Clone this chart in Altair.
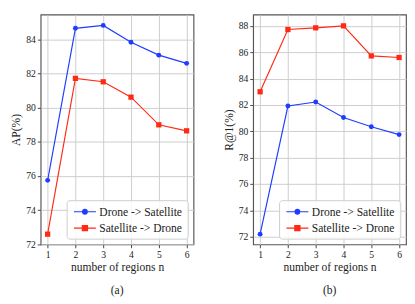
import altair as alt
import pandas as pd

regions = [1, 2, 3, 4, 5, 6]
series_names = ["Drone -> Satellite", "Satellite -> Drone"]

# (a) AP(%)
ap_drone_sat = [75.75, 84.65, 84.82, 83.83, 83.08, 82.60]
ap_sat_drone = [72.60, 81.72, 81.52, 80.62, 79.00, 78.65]

# (b) R@1(%)
r1_drone_sat = [72.20, 81.92, 82.22, 81.05, 80.35, 79.75]
r1_sat_drone = [83.00, 87.72, 87.85, 88.00, 85.72, 85.60]

BLUE = "#1f3dff"
RED = "#ff2a14"
FONT = "Liberation Serif, Times New Roman, DejaVu Serif, serif"

CIRCLE_PATH = "M-1.9,0H1.9M-0.4,0A0.4,0.4,0,1,1,0.4,0A0.4,0.4,0,1,1,-0.4,0Z"
SQUARE_PATH = "M-1.9,0H1.9M-0.45,-0.45H0.45V0.45H-0.45Z"


def make_df(a, b):
    rows = []
    for n, v in zip(regions, a):
        rows.append({"n": n, "value": v, "series": series_names[0]})
    for n, v in zip(regions, b):
        rows.append({"n": n, "value": v, "series": series_names[1]})
    return pd.DataFrame(rows)


def panel(df, ydom, yticks, ytitle, caption):
    x = alt.X(
        "n:Q",
        scale=alt.Scale(domain=[0.75, 6.25], nice=False, zero=False),
        axis=alt.Axis(values=regions, title="number of regions n", format="d",
                      labelFont=FONT, titleFont=FONT),
    )
    y = alt.Y(
        "value:Q",
        scale=alt.Scale(domain=ydom, nice=False, zero=False),
        axis=alt.Axis(values=yticks, title=ytitle, format="d",
                      labelFont=FONT, titleFont=FONT),
    )
    cscale = alt.Scale(domain=series_names, range=[BLUE, RED])
    legend = alt.Legend(
        title=None,
        orient="bottom-right",
        offset=6,
        padding=5,
        fillColor="rgba(255,255,255,0.85)",
        strokeColor="#cccccc",
        cornerRadius=3,
        labelFont=FONT,
        labelFontSize=12,
        labelColor="#222222",
        labelOffset=8,
        symbolOffset=7,
        symbolSize=144,
        symbolStrokeWidth=1.2,
        symbolOpacity=1,
        rowPadding=4,
    )
    base = alt.Chart(df)
    lines = base.mark_line(strokeWidth=1.2).encode(
        x=x, y=y,
        stroke=alt.Stroke("series:N", scale=cscale, legend=legend),
    )
    pts_a = base.transform_filter(alt.datum.series == series_names[0]).mark_point(
        filled=True, size=26, opacity=1, strokeWidth=0, shape="circle"
    ).encode(x=x, y=y, fill=alt.Fill("series:N", scale=cscale, legend=legend))
    pts_b = base.transform_filter(alt.datum.series == series_names[1]).mark_point(
        filled=True, size=30, opacity=1, strokeWidth=0, shape="square"
    ).encode(x=x, y=y, fill=alt.Fill("series:N", scale=cscale, legend=legend))
    leg = base.transform_filter("false").mark_point(filled=True, opacity=1, strokeWidth=1.2).encode(
        x=x, y=y,
        fill=alt.Fill("series:N", scale=cscale, legend=legend),
        stroke=alt.Stroke("series:N", scale=cscale, legend=legend),
        shape=alt.Shape("series:N", scale=alt.Scale(domain=series_names, range=[CIRCLE_PATH, SQUARE_PATH]), legend=legend),
    )
    return alt.layer(lines, pts_a, pts_b, leg).properties(
        width=159,
        height=239,
        title=alt.TitleParams(caption, orient="bottom", font=FONT, fontSize=12,
                              fontWeight="normal", color="#222222", offset=13),
    )


left = panel(make_df(ap_drone_sat, ap_sat_drone), [72, 85.45], [72, 74, 76, 78, 80, 82, 84], "AP(%)", "(a)")
right = panel(make_df(r1_drone_sat, r1_sat_drone), [71.42, 88.85], [72, 74, 76, 78, 80, 82, 84, 86, 88], "R@1(%)", "(b)")

chart = alt.hconcat(left, right, spacing=28).resolve_scale(
    fill="independent", stroke="independent", shape="independent"
).resolve_legend(
    fill="independent", stroke="independent", shape="independent"
).properties(
    padding={"left": 1, "top": 0, "right": 0, "bottom": 0}
).configure_view(
    stroke="#555555", strokeWidth=1.2
).configure_axis(
    labelFont=FONT, labelFontSize=10, labelColor="#222222",
    titleFont=FONT, titleFontSize=12, titleFontWeight="normal", titleColor="#222222",
    grid=True, gridColor="#cccccc", gridWidth=1,
    domain=False, tickColor="#444444", tickSize=3.5, labelPadding=2,
).configure_axisY(titlePadding=3).configure_axisX(titlePadding=3)

chart.save("out.html", embed_options={"renderer": "svg", "actions": False})
